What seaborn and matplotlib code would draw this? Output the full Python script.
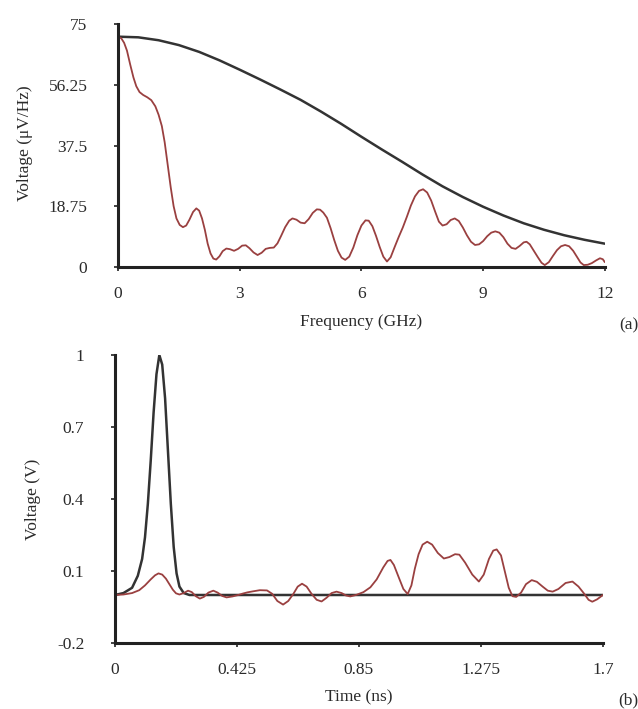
import numpy as np
import pandas as pd
import matplotlib
matplotlib.use("Agg")
import matplotlib.pyplot as plt
import seaborn as sns

sns.set_theme(style="white")
plt.rcParams["font.family"] = ["Liberation Serif", "DejaVu Serif"]

# (a) spectrum: input pulse spectrum and received spectrum
freq_input = [0, 0.5, 1, 1.5, 2, 2.5, 3, 3.5, 4, 4.5, 5, 5.5, 6, 6.5, 7, 7.5,
              8, 8.5, 9, 9.5, 10, 10.5, 11, 11.5, 12]
volt_input = [71.1, 70.9, 70.0, 68.5, 66.4, 63.8, 60.9, 57.9, 54.8, 51.6, 48.0,
              44.2, 40.2, 36.3, 32.5, 28.6, 24.9, 21.6, 18.6, 15.9, 13.5, 11.5,
              9.8, 8.4, 7.2]

freq_recv = [0.00, 0.08, 0.15, 0.22, 0.30, 0.38, 0.45, 0.53, 0.62, 0.72, 0.82,
             0.92, 1.00, 1.08, 1.15, 1.22, 1.30, 1.37, 1.44, 1.52, 1.60, 1.68,
             1.76, 1.85, 1.93, 2.00, 2.07, 2.14, 2.21, 2.28, 2.35, 2.42, 2.50,
             2.58, 2.67, 2.76, 2.86, 2.96, 3.06, 3.15, 3.24, 3.34, 3.44, 3.54,
             3.64, 3.74, 3.84, 3.93, 4.02, 4.12, 4.22, 4.30, 4.40, 4.50, 4.60,
             4.70, 4.80, 4.90, 4.98, 5.06, 5.15, 5.24, 5.33, 5.42, 5.51, 5.60,
             5.70, 5.80, 5.90, 6.00, 6.10, 6.18, 6.27, 6.36, 6.45, 6.54, 6.63,
             6.72, 6.82, 6.92, 7.02, 7.12, 7.22, 7.32, 7.42, 7.52, 7.62, 7.72,
             7.82, 7.91, 8.00, 8.10, 8.20, 8.30, 8.40, 8.50, 8.60, 8.70, 8.80,
             8.90, 9.00, 9.10, 9.20, 9.30, 9.40, 9.50, 9.60, 9.70, 9.80, 9.90,
             10.00, 10.07, 10.15, 10.25, 10.35, 10.44, 10.52, 10.62, 10.72,
             10.82, 10.92, 11.02, 11.12, 11.22, 11.32, 11.40, 11.48, 11.58,
             11.68, 11.78, 11.88, 11.95, 12.00]
volt_recv = [71.1, 70.6, 69.2, 66.8, 62.5, 58.5, 55.8, 54.0, 53.1, 52.4, 51.5,
             49.6, 47.0, 43.5, 38.5, 32.0, 24.5, 18.8, 15.0, 13.0, 12.3, 12.8,
             14.6, 17.0, 18.1, 17.4, 15.0, 11.5, 7.2, 4.2, 2.6, 2.3, 3.3,
             4.9, 5.7, 5.5, 5.0, 5.6, 6.6, 6.7, 5.8, 4.5, 3.7, 4.4,
             5.6, 5.9, 6.0, 7.3, 9.6, 12.3, 14.3, 15.0, 14.6, 13.7, 13.5,
             14.8, 16.7, 17.8, 17.7, 16.8, 15.2, 12.0, 8.3, 5.0, 2.9, 2.2,
             3.2, 6.0, 9.8, 12.8, 14.4, 14.3, 12.6, 9.6, 6.2, 3.2, 1.7,
             3.0, 6.2, 9.3, 12.2, 15.5, 19.0, 21.8, 23.5, 24.0, 23.0, 20.5,
             17.0, 14.0, 12.8, 13.2, 14.5, 15.0, 14.2, 12.2, 9.8, 7.8, 6.8,
             7.0, 8.0, 9.5, 10.6, 11.0, 10.6, 9.2, 7.2, 5.9, 5.6, 6.5,
             7.6, 7.8, 7.0, 5.0, 3.0, 1.3, 0.6, 1.5, 3.4,
             5.2, 6.4, 6.8, 6.4, 5.0, 3.0, 1.4, 0.6, 0.7,
             1.2, 2.0, 2.7, 2.4, 1.5]

freq_ticks = [0, 3, 6, 9, 12]
spec_ticks = [0, 18.75, 37.5, 56.25, 75]
spec_tick_labels = ["0", "18.75", "37.5", "56.25", "75"]

# (b) time domain: input pulse and received waveform
time_input = [0.00, 0.03, 0.06, 0.08, 0.095, 0.105, 0.115, 0.125, 0.135, 0.145,
              0.155, 0.165, 0.175, 0.185, 0.195, 0.205, 0.215, 0.225, 0.24,
              0.26, 1.70]
volt_pulse = [0.0, 0.008, 0.03, 0.08, 0.15, 0.24, 0.38, 0.56, 0.76, 0.92,
              1.0, 0.96, 0.82, 0.60, 0.38, 0.20, 0.09, 0.035, 0.008,
              0.0, 0.0]

time_recv = [0.000, 0.030, 0.060, 0.085, 0.105, 0.125, 0.140, 0.152, 0.165,
             0.178, 0.190, 0.202, 0.213, 0.225, 0.240, 0.255, 0.268, 0.282,
             0.296, 0.310, 0.326, 0.343, 0.358, 0.374, 0.389, 0.410, 0.430,
             0.446, 0.462, 0.480, 0.505, 0.530, 0.548, 0.566, 0.586, 0.604,
             0.622, 0.637, 0.652, 0.668, 0.685, 0.703, 0.720, 0.737, 0.755,
             0.772, 0.790, 0.805, 0.820, 0.840, 0.866, 0.890, 0.912, 0.935,
             0.950, 0.960, 0.972, 0.990, 1.005, 1.020, 1.033, 1.045, 1.058,
             1.072, 1.088, 1.105, 1.125, 1.146, 1.165, 1.185, 1.200, 1.220,
             1.245, 1.268, 1.285, 1.303, 1.318, 1.330, 1.345, 1.360, 1.372,
             1.385, 1.398, 1.415, 1.432, 1.452, 1.470, 1.490, 1.508, 1.525,
             1.545, 1.570, 1.594, 1.615, 1.635, 1.650, 1.663, 1.680, 1.700]
volt_wave = [0.000, 0.002, 0.008, 0.020, 0.040, 0.065, 0.082, 0.090, 0.085,
             0.068, 0.045, 0.022, 0.007, 0.002, 0.008, 0.018, 0.012, -0.005,
             -0.015, -0.008, 0.010, 0.018, 0.010, -0.004, -0.010, -0.006, 0.000,
             0.006, 0.011, 0.015, 0.020, 0.019, 0.005, -0.025, -0.040, -0.025,
             0.005, 0.035, 0.047, 0.035, 0.005, -0.020, -0.027, -0.012, 0.008,
             0.014, 0.008, -0.002, -0.006, 0.000, 0.012, 0.032, 0.065, 0.115,
             0.142, 0.146, 0.125, 0.070, 0.025, 0.004, 0.040, 0.110, 0.170,
             0.210, 0.222, 0.210, 0.175, 0.152, 0.158, 0.170, 0.168, 0.135,
             0.085, 0.056, 0.085, 0.150, 0.185, 0.190, 0.165, 0.090, 0.030,
             -0.005, -0.008, 0.010, 0.045, 0.062, 0.055, 0.035, 0.018, 0.014,
             0.025, 0.050, 0.056, 0.035, 0.005, -0.020, -0.028, -0.018, 0.000]

time_ticks = [0, 0.425, 0.85, 1.275, 1.7]
time_tick_labels = ["0", "0.425", "0.85", "1.275", "1.7"]
wave_ticks = [-0.2, 0.1, 0.4, 0.7, 1.0]
wave_tick_labels = ["-0.2", "0.1", "0.4", "0.7", "1"]

BLACK = "#333333"
RED = "#9a4040"
TEXT = "#2a2a2a"
FS = 12.5

fig = plt.figure(figsize=(6.38, 7.09), dpi=100)
ax1 = fig.add_axes([0.185, 0.6234, 0.763, 0.3427])
ax2 = fig.add_axes([0.180, 0.0931, 0.765, 0.4062])

line_kw = dict(estimator=None, solid_joinstyle="round", solid_capstyle="round")

df_in = pd.DataFrame({"f": freq_input, "v": volt_input})
df_rx = pd.DataFrame({"f": freq_recv, "v": volt_recv})
sns.lineplot(data=df_in, x="f", y="v", ax=ax1, color=BLACK, lw=1.8, **line_kw)
sns.lineplot(data=df_rx, x="f", y="v", ax=ax1, color=RED, lw=1.3, **line_kw)

dt_in = pd.DataFrame({"t": time_input, "v": volt_pulse})
dt_rx = pd.DataFrame({"t": time_recv, "v": volt_wave})
sns.lineplot(data=dt_in, x="t", y="v", ax=ax2, color=BLACK, lw=1.8, **line_kw)
sns.lineplot(data=dt_rx, x="t", y="v", ax=ax2, color=RED, lw=1.3, **line_kw)

ax1.set_xlim(0, 12)
ax1.set_ylim(0, 75)
ax1.set_xticks(freq_ticks)
ax1.set_xticklabels([str(t) for t in freq_ticks])
ax1.set_yticks(spec_ticks)
ax1.set_yticklabels(spec_tick_labels)

ax2.set_xlim(0, 1.7)
ax2.set_ylim(-0.2, 1.0)
ax2.set_xticks(time_ticks)
ax2.set_xticklabels(time_tick_labels)
ax2.set_yticks(wave_ticks)
ax2.set_yticklabels(wave_tick_labels)

for ax in (ax1, ax2):
    for side in ("top", "right"):
        ax.spines[side].set_visible(False)
    for side in ("left", "bottom"):
        ax.spines[side].set_color("#222222")
        ax.spines[side].set_linewidth(2.2)
    ax.tick_params(axis="both", which="major", direction="out", length=3,
                   width=1.2, color="#222222", labelsize=FS,
                   labelcolor=TEXT, bottom=True, left=True)
    ax.tick_params(axis="y", pad=19)
    ax.tick_params(axis="x", pad=11)
    ax.set_facecolor("white")

ax1.set_xlabel("Frequency (GHz)", fontsize=FS, color=TEXT, va="center")
ax1.xaxis.set_label_coords(0.5, -0.226)
ax1.set_ylabel("Voltage (μV/Hz)", fontsize=FS, color=TEXT, va="center")
ax1.yaxis.set_label_coords(-0.191, 0.51)

ax2.set_xlabel("Time (ns)", fontsize=FS, color=TEXT, va="center")
ax2.xaxis.set_label_coords(0.5, -0.19)
ax2.set_ylabel("Voltage (V)", fontsize=FS, color=TEXT, va="center")
ax2.yaxis.set_label_coords(-0.168, 0.497)

fig.text(1.0, 1 - 325 / 709, "(a)", fontsize=FS, color=TEXT,
         ha="right", va="center")
fig.text(1.0, 1 - 700 / 709, "(b)", fontsize=FS, color=TEXT,
         ha="right", va="center")

fig.savefig("out.png", dpi=100, facecolor="white")
